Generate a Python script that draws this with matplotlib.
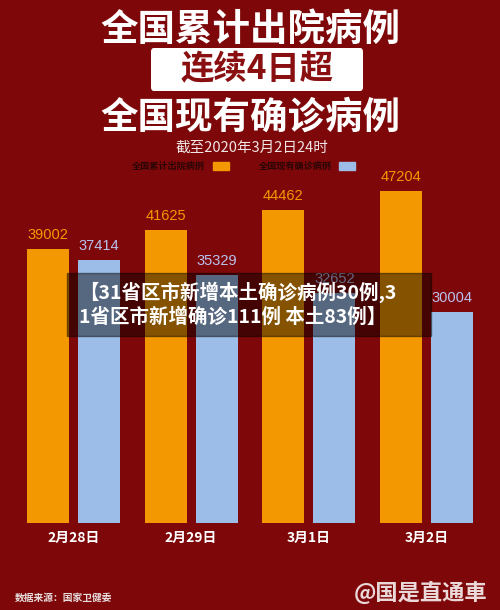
import matplotlib
matplotlib.use("Agg")
import matplotlib.pyplot as plt
from matplotlib.patches import FancyBboxPatch, Rectangle
import numpy as np

plt.rcParams["font.family"] = ["Noto Sans CJK SC", "DejaVu Sans"]

# data
dates = ["2月28日", "2月29日", "3月1日", "3月2日"]
discharged = [39002, 41625, 44462, 47204]     # 全国累计出院病例
current = [37414, 35329, 32652, 30004]        # 全国现有确诊病例
series_names = ["全国累计出院病例", "全国现有确诊病例"]

BG = "#7e0809"
ORANGE = "#f39800"
BLUE = "#9dbde9"
W, H = 500, 610


def fx(px):
    return px / W


def fy(py):
    return 1 - py / H


fig = plt.figure(figsize=(5, 6.1), dpi=100, facecolor=BG)

# bar area: baseline at y=523px, 7.03 px per 1000 cases
ax = fig.add_axes([0, fy(523), 1, 351.5 / H])
ax.set_facecolor(BG)
ax.patch.set_alpha(0)
x = np.arange(len(dates))
bw = 0.357
off = 0.217
ax.bar(x - off, discharged, bw, color=ORANGE, zorder=2)
ax.bar(x + off, current, bw, color=BLUE, zorder=2)
for xi, v in zip(x, discharged):
    ax.text(xi - off, v + 1000, str(v), ha="center", va="bottom",
            color=ORANGE, fontsize=10.5, family="Liberation Sans")
for xi, v in zip(x, current):
    ax.text(xi + off, v + 1000, str(v), ha="center", va="bottom",
            color="#b9c2ee", fontsize=10.5, family="Liberation Sans")
ax.set_xlim(-0.6245, 3.6245)
ax.set_ylim(0, 50000)
ax.axis("off")

# date labels under the bars
for xi, d in zip(x, dates):
    ax.annotate(d, xy=(xi, 0), xytext=(0, -11), textcoords="offset points",
                ha="center", va="center", color="white", fontsize=10,
                fontweight="bold")

# titles
fig.text(0.5, fy(29), "全国累计出院病例", ha="center", va="center",
         color="white", fontsize=27, fontweight="heavy")
box = FancyBboxPatch((fx(151), fy(91)), fx(212), (91 - 48) / H,
                     boxstyle="round,pad=0,rounding_size=0.006",
                     transform=fig.transFigure, facecolor="white",
                     edgecolor="none")
fig.patches.append(box)
fig.text(fx(257), fy(70), "连续4日超", ha="center", va="center",
         color="#8a0f10", fontsize=24, fontweight="heavy")
fig.text(0.5, fy(117), "全国现有确诊病例", ha="center", va="center",
         color="white", fontsize=27, fontweight="heavy")
fig.text(fx(252), fy(148), "截至2020年3月2日24时", ha="center", va="center",
         color="#f0e6e6", fontsize=10.5)

# legend
fig.text(fx(205), fy(166), series_names[0], ha="right", va="center",
         color="#2a0505", fontsize=6.6, fontweight="bold")
fig.patches.append(Rectangle((fx(213), fy(170)), fx(16), 8 / H,
                             transform=fig.transFigure, color=ORANGE))
fig.text(fx(332), fy(166), series_names[1], ha="right", va="center",
         color="#2a0505", fontsize=6.6, fontweight="bold")
fig.patches.append(Rectangle((fx(339), fy(170)), fx(16), 8 / H,
                             transform=fig.transFigure, color=BLUE))

# caption overlay
fig.patches.append(Rectangle((fx(67), fy(336)), fx(364), (336 - 273) / H,
                             transform=fig.transFigure, color="black",
                             alpha=0.45, zorder=5))
fig.text(fx(79), fy(292), "【31省区市新增本土确诊病例30例,3", ha="left",
         va="center", color="white", fontsize=14, fontweight="bold",
         zorder=6)
fig.text(fx(79), fy(317), "1省区市新增确诊111例 本土83例】", ha="left",
         va="center", color="white", fontsize=14, fontweight="bold",
         zorder=6)

# footer
fig.text(fx(15), fy(598), "数据来源：国家卫健委", ha="left", va="center",
         color="#e8dede", fontsize=7, fontweight="bold")
fig.text(fx(487), fy(593), "@国是直通車", ha="right", va="center",
         color="white", fontsize=16, fontweight="bold", style="italic",
         alpha=0.85)

fig.savefig("out.png", dpi=100, facecolor=BG)
